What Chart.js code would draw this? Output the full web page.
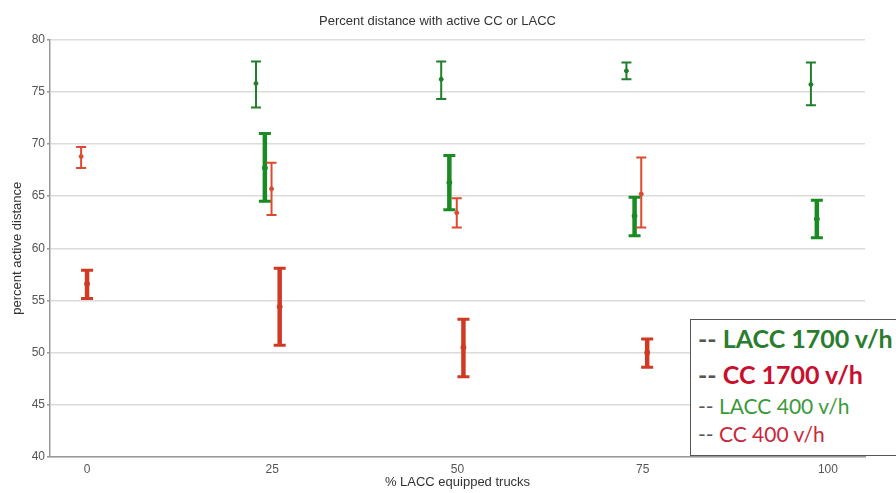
<!DOCTYPE html>
<html>
<head>
<meta charset="utf-8">
<script src="https://cdn.jsdelivr.net/npm/chart.js@4"></script>
<style>
  html, body { margin: 0; padding: 0; background: #fff; overflow: hidden; }
  #wrap { position: relative; width: 896px; height: 493px; }
  #legend {
    position: absolute; left: 690px; top: 319px; width: 260px; height: 137px;
    border: 1.5px solid #555; background: #fff; font-family: Lato, "Open Sans", sans-serif;
    box-sizing: border-box; padding: 0 0 0 7px;
  }
  #legend div { white-space: nowrap; }
  #legend .d { color: #555; }
  .big { font-size: 25px; font-weight: bold; line-height: 36px; }
  .small { font-size: 21px; line-height: 28px; }
</style>
</head>
<body>
<div id="wrap">
  <canvas id="chart" width="896" height="493"></canvas>
  <div id="legend">
    <div class="big" style="color:#2a7d2e"><span class="d">--</span> LACC 1700 v/h</div>
    <div class="big" style="color:#c8102e"><span class="d">--</span> CC 1700 v/h</div>
    <div class="small" style="color:#3a9a3a"><span class="d">--</span> LACC 400 v/h</div>
    <div class="small" style="color:#c8283a"><span class="d">--</span> CC 400 v/h</div>
  </div>
</div>
<script>
  const xTicks = [0, 25, 50, 75, 100];

  // LACC 400 v/h (thin green)
  const lacc400X = [22.8, 47.8, 72.8, 97.7];
  const lacc400Mean = [75.8, 76.2, 77.0, 75.7];
  const lacc400Lo = [73.5, 74.3, 76.2, 73.7];
  const lacc400Hi = [77.9, 77.9, 77.8, 77.8];

  // LACC 1700 v/h (thick green)
  const lacc1700X = [24.0, 48.9, 73.9, 98.5];
  const lacc1700Mean = [67.7, 66.3, 63.1, 62.8];
  const lacc1700Lo = [64.5, 63.7, 61.2, 61.0];
  const lacc1700Hi = [71.0, 68.9, 64.9, 64.6];

  // CC 400 v/h (thin red)
  const cc400X = [-0.8, 24.9, 49.9, 74.8];
  const cc400Mean = [68.8, 65.7, 63.4, 65.2];
  const cc400Lo = [67.7, 63.2, 62.0, 62.0];
  const cc400Hi = [69.7, 68.2, 64.8, 68.7];

  // CC 1700 v/h (thick red)
  const cc1700X = [0.0, 26.0, 50.8, 75.6];
  const cc1700Mean = [56.6, 54.4, 50.5, 50.0];
  const cc1700Lo = [55.2, 50.7, 47.7, 48.6];
  const cc1700Hi = [57.9, 58.1, 53.2, 51.3];

  function pts(xs, ys) {
    return xs.map((x, i) => ({ x: x, y: ys[i] }));
  }

  function series(xs, mean, lo, hi, color, width, cap) {
    return {
      data: pts(xs, mean),
      lo: lo,
      hi: hi,
      barWidth: width,
      capWidth: cap,
      borderColor: color,
      backgroundColor: color,
      pointRadius: width > 3 ? 2.5 : 2,
      showLine: false
    };
  }

  // draws the vertical error bars with caps
  const errorBars = {
    id: 'errorBars',
    afterDatasetsDraw(chart) {
      const ctx = chart.ctx;
      const xs = chart.scales.x;
      const ys = chart.scales.y;
      chart.data.datasets.forEach(ds => {
        ctx.save();
        ctx.strokeStyle = ds.borderColor;
        ds.data.forEach((p, i) => {
          const px = xs.getPixelForValue(p.x);
          const top = ys.getPixelForValue(ds.hi[i]);
          const bot = ys.getPixelForValue(ds.lo[i]);
          const c = ds.capWidth / 2;
          ctx.lineWidth = ds.barWidth;
          ctx.beginPath();
          ctx.moveTo(px, top); ctx.lineTo(px, bot);
          ctx.stroke();
          ctx.lineWidth = ds.barWidth > 3 ? 3 : 2;
          ctx.beginPath();
          ctx.moveTo(px - c, top); ctx.lineTo(px + c, top);
          ctx.moveTo(px - c, bot); ctx.lineTo(px + c, bot);
          ctx.stroke();
        });
        ctx.restore();
      });
    }
  };

  new Chart(document.getElementById('chart'), {
    type: 'scatter',
    data: {
      datasets: [
        series(lacc400X, lacc400Mean, lacc400Lo, lacc400Hi, '#1f7f2a', 2, 10),
        series(lacc1700X, lacc1700Mean, lacc1700Lo, lacc1700Hi, '#1a8a22', 4.5, 12),
        series(cc400X, cc400Mean, cc400Lo, cc400Hi, '#dd4a30', 2, 10),
        series(cc1700X, cc1700Mean, cc1700Lo, cc1700Hi, '#d03a24', 4.5, 12)
      ]
    },
    plugins: [errorBars],
    options: {
      responsive: false,
      animation: false,
      layout: { padding: { left: 10, right: 31, top: 0, bottom: 0 } },
      plugins: {
        legend: { display: false },
        tooltip: { enabled: false },
        title: {
          display: true,
          text: 'Percent distance with active CC or LACC',
          color: '#333',
          font: { family: 'Arial, "Liberation Sans"', size: 13, weight: 'normal' },
          padding: { top: 14, bottom: 10 }
        }
      },
      scales: {
        x: {
          type: 'linear',
          min: -5,
          max: 105,
          afterBuildTicks: s => { s.ticks = xTicks.map(v => ({ value: v })); },
          afterFit: s => { s.height = 36; },
          grid: { display: false },
          border: { display: true, color: '#999', width: 1.5 },
          ticks: { color: '#555', font: { family: 'Arial', size: 12 }, padding: -3 },
          title: {
            display: true,
            text: '% LACC equipped trucks',
            color: '#333',
            font: { family: 'Arial, "Liberation Sans"', size: 13 },
            padding: { top: 0, bottom: 3 }
          }
        },
        y: {
          min: 40,
          max: 80,
          afterFit: s => { s.width = 40; },
          grid: { color: '#dcdcdc', lineWidth: 1.5, tickLength: 3, tickColor: '#999' },
          border: { display: true, color: '#999', width: 1.5 },
          ticks: { stepSize: 5, color: '#555', font: { family: 'Arial', size: 12 }, padding: 2 },
          title: {
            display: true,
            text: 'percent active distance',
            color: '#333',
            font: { family: 'Arial, "Liberation Sans"', size: 13 },
            padding: { top: 0, bottom: 0 }
          }
        }
      }
    }
  });
</script>
</body>
</html>
